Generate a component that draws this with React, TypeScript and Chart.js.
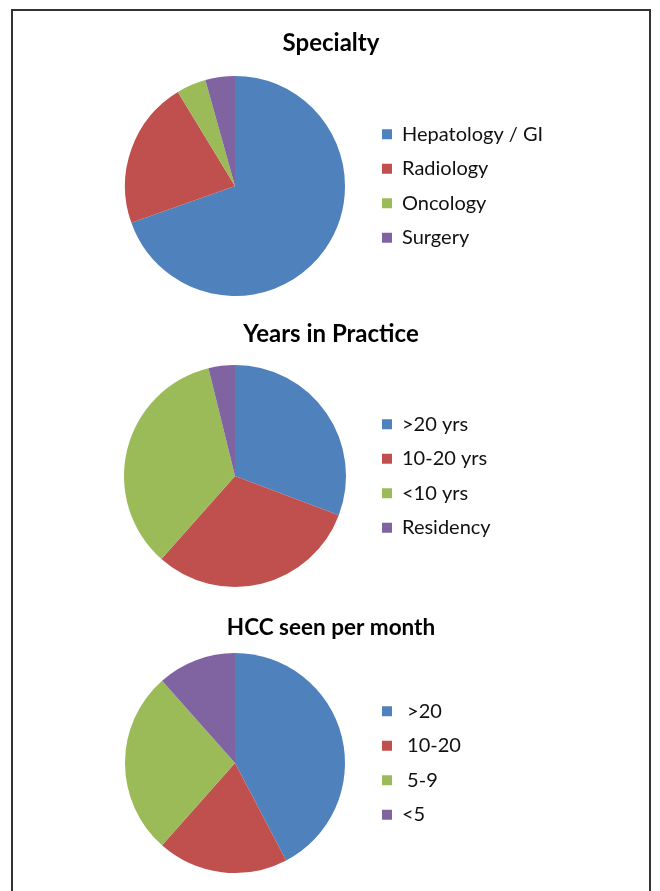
import React, { useEffect, useRef } from "react";
import { Chart, registerables } from "chart.js";

Chart.register(...registerables);

// ---- data ----
const sliceColors = ["#4F81BD", "#C0504D", "#9BBB59", "#8064A2"];

const specialtyTitle = "Specialty";
const specialtyLabels = ["Hepatology / GI", "Radiology", "Oncology", "Surgery"];
const specialtyValues = [16, 5, 1, 1];

const yearsTitle = "Years in Practice";
const yearsLabels = [">20 yrs", "10-20 yrs", "<10 yrs", "Residency"];
const yearsValues = [8, 8, 9, 1];

const hccTitle = "HCC seen per month";
const hccLabels = [" >20", " 10-20", " 5-9", "<5"];
const hccValues = [11, 5, 7, 3];

// ---- layout (page px) ----
const FONT = "Lato, 'Open Sans', sans-serif";
const CANVAS_LEFT = 12;
const CANVAS_W = 638;
const PIE_CX = 235;
const BOX_LEFT = 382;
const LEGEND_SIZE = 20;
const LEGEND_PAD = 14.5;
const BOX = 10;
const TOP_GAP = 60;
const BOTTOM_GAP = 14;

type Panel = {
  title: string;
  labels: string[];
  values: number[];
  titleSize: number;
  titleY: number;
  cy: number;
  r: number;
};

const panels: Panel[] = [
  { title: specialtyTitle, labels: specialtyLabels, values: specialtyValues, titleSize: 24, titleY: 43.5, cy: 186, r: 110 },
  { title: yearsTitle, labels: yearsLabels, values: yearsValues, titleSize: 24, titleY: 334, cy: 475.5, r: 111 },
  { title: hccTitle, labels: hccLabels, values: hccValues, titleSize: 22.5, titleY: 628, cy: 763.3, r: 110 },
];

// centre the title over the whole canvas width (not only the padded area)
const centerTitle = {
  id: "centerTitle",
  afterLayout(chart: any) {
    const t = chart.titleBlock;
    if (t) {
      t.left = 0;
      t.right = chart.width;
      t.width = chart.width;
    }
  },
};

function PiePanel({ p }: { p: Panel }) {
  const ref = useRef<HTMLCanvasElement>(null);
  const top = p.cy - p.r - TOP_GAP;
  const height = Math.round(TOP_GAP + 2 * p.r + BOTTOM_GAP);
  const titleLH = p.titleSize * 1.2;
  const tTop = p.titleY - top - titleLH / 2;
  const tBottom = TOP_GAP - tTop - titleLH;

  useEffect(() => {
    const chart = new Chart(ref.current!, {
      type: "pie",
      data: {
        labels: p.labels,
        datasets: [
          {
            data: p.values,
            backgroundColor: sliceColors,
            borderWidth: 0,
          },
        ],
      },
      plugins: [centerTitle],
      options: {
        responsive: false,
        animation: false,
        layout: { padding: { top: 0, bottom: BOTTOM_GAP, left: 0, right: 0 } },
        plugins: {
          tooltip: { enabled: false },
          title: {
            display: true,
            text: p.title,
            color: "#000",
            font: { family: FONT, size: p.titleSize, weight: "bold" },
            padding: { top: tTop, bottom: tBottom },
          },
          legend: {
            display: true,
            position: "right",
            align: "center",
            fullSize: false,
            labels: {
              boxWidth: BOX,
              boxHeight: BOX,
              padding: LEGEND_PAD,
              color: "#111",
              font: { family: FONT, size: LEGEND_SIZE },
            },
          },
        },
      },
    });
    const lg = chart.legend as any;
    const legendLeft = BOX_LEFT - CANVAS_LEFT - LEGEND_PAD;
    const padRight = CANVAS_W - lg.width - legendLeft;
    const padLeft = 2 * (PIE_CX - CANVAS_LEFT) - legendLeft;
    (chart.options.layout as any).padding = { top: 0, bottom: BOTTOM_GAP, left: padLeft, right: padRight };
    chart.update();
    return () => chart.destroy();
  }, []);

  return (
    <canvas
      ref={ref}
      width={CANVAS_W}
      height={height}
      style={{ position: "absolute", left: CANVAS_LEFT, top, width: CANVAS_W, height }}
    />
  );
}

export default function App() {
  return (
    <div
      style={{
        position: "absolute",
        left: 0,
        top: 0,
        width: 660,
        height: 891,
        overflow: "hidden",
        background: "#fff",
      }}
    >
      <div
        style={{
          position: "absolute",
          left: 11,
          top: 9,
          width: 636,
          height: 920,
          border: "2px solid #333",
          boxSizing: "content-box",
        }}
      />
      {panels.map((p, i) => (
        <PiePanel key={i} p={p} />
      ))}
    </div>
  );
}
